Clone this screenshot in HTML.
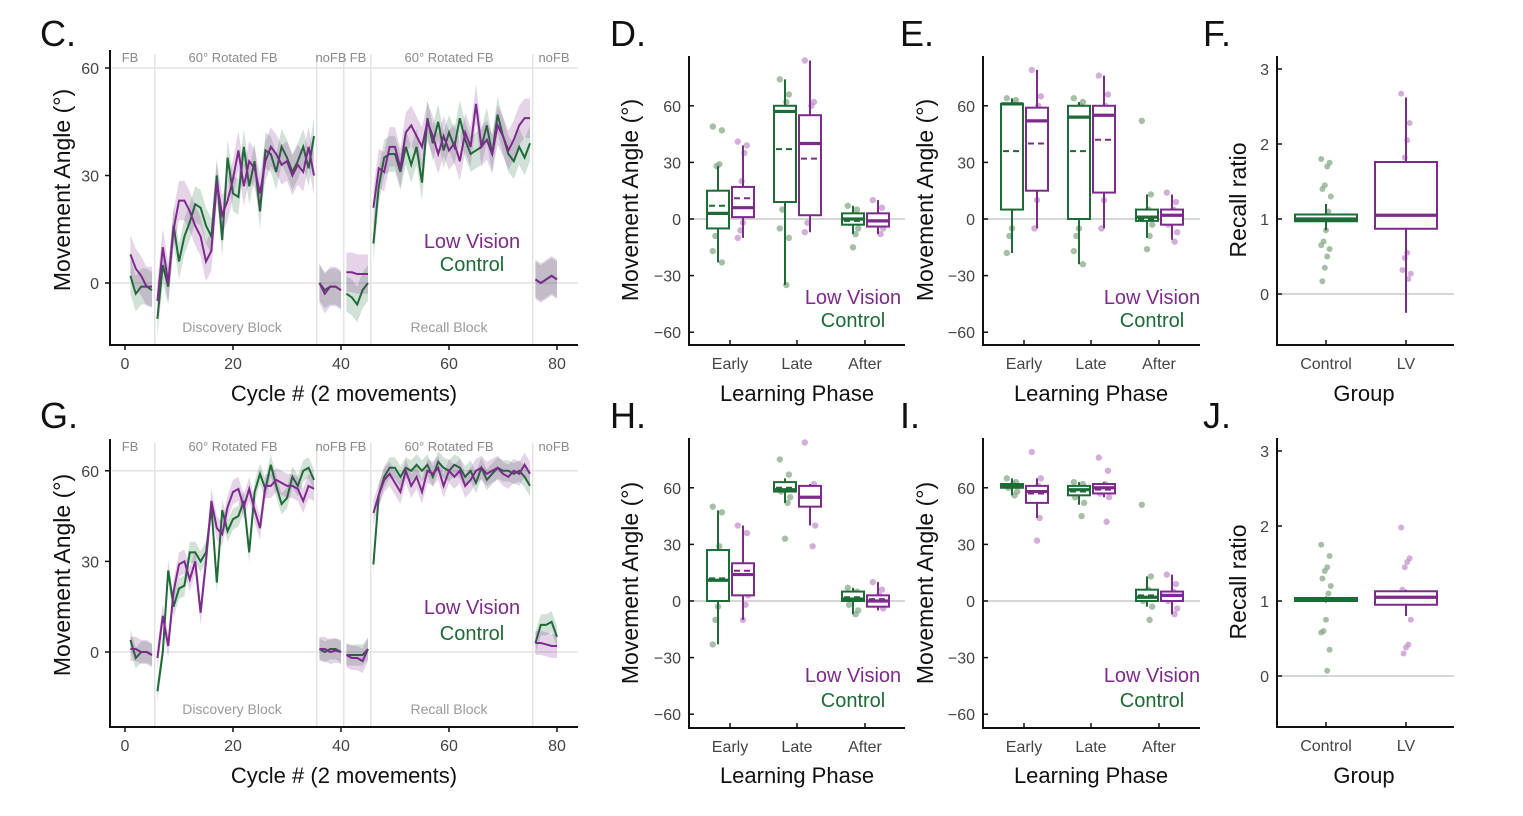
<!DOCTYPE html>
<html><head><meta charset="utf-8"><style>
html,body{margin:0;padding:0;background:#fff;}
svg{display:block;font-family:"Liberation Sans",sans-serif;}
</style></head><body>
<svg id="fig" width="1523" height="816" viewBox="0 0 1523 816" xmlns="http://www.w3.org/2000/svg"></svg>
<script>
// ---------- DATA ----------
const segStarts = [1,6,36,41,46,76];
const segLens = [5,30,5,5,30,5];
const cLV = [8,4,2,-1,-1,
 -5,10,0,15,23,23,20,16,13,6,9,28,19,23,29,37,27,34,32,25,34,38,36,33,34,30,33,31,38,30,
 0,-3,-1,-1,-2, 3,3,2.5,2.5,2.5,
 21,32,31,38,38,32,42,44,41,38,45,41,36,41,37,39,34,42,38,50,38,40,36,44,41,37,40,44,46,46,
 1,0,1,2,1];
const cCtrl = [2,-3,-1,-1,-2,
 -10,5,-1,16,6,13,17,22,21,16,13,30,12,35,25,24,38,27,34,20,37,36,31,38,35,31,34,38,32,41,
 0,-2,-1,-1,-2, -3,-4,-6,-2,0,
 11,27,35,36,36,31,38,33,38,28,46,39,45,37,42,38,46,40,36,37,38,44,36,47,41,36,34,38,35,39,
 1,0,1,2,1];
const gLV = [1,1,0,0,-1,
 -2,12,2,20,29,30,24,30,13,30,50,41,39,48,53,54,48,54,47,41,55,55,57,56,55,55,54,50,55,54,
 1,1,0,0.5,0, -1,-2,-2,-3,1,
 46,52,57,59,56,53,60,55,58,53,60,59,61,55,60,58,60,55,57,60,61,59,60,61,59,58,60,59,62,59,
 3,3,2.5,2,2];
const gCtrl = [4,-2,0,0,-1,
 -13,0,27,15,21,22,33,33,30,33,48,23,47,40,44,45,50,33,53,59,54,62,55,49,51,58,55,60,61,57,
 1,0,1,1,0, -1,-1,-1,-1,1,
 29,52,58,61,61,58,61,60,62,60,62,58,63,61,60,62,61,58,60,56,61,57,59,61,60,60,59,60,58,55,
 3,9,9,10,5];
const cSE = [5.5,5];
const gSE = [4,3.5];
const xTicks = [0,20,40,60,80];
const angTicks = [60,30,0];
const phaseCats = ["Early","Late","After"];
const boxTicks = [60,30,0,-30,-60];
// stats: [q1, median, q3, mean, whiskerLo, whiskerHi]
const dCtrl = [[-5,3,15,7,-23,28],[9,57,60,37,-35,74],[-3,0,3,-1,-8,7]];
const dLV = [[1,6,17,11,-10,39],[2,40,55,32,-7,84],[-4,-1,3,-1,-8,10]];
const eCtrl = [[5,61,61,36,-18,64],[0,54,60,36,-24,62],[-1,1,5,0,-10,13]];
const eLV = [[15,52,59,40,-5,79],[14,55,60,42,-5,76],[-3,2,5,2,-11,13]];
const hCtrl = [[0,11,27,12,-23,48],[58,59,63,60,52,65],[0,1,5,2,-7,7]];
const hLV = [[3,14,20,16,-10,40],[50,55,61,55,40,62],[-3,0,3,1,-5,10]];
const iCtrl = [[60,61,62,61,56,65],[56,59,61,58,51,63],[0,2,6,3,-3,13]];
const iLV = [[52,58,61,57,44,65],[57,60,62,59,55,63],[0,3,5,3,-7,14]];
const dCtrlPts = [[49,47,29,28,14,7,3,-3,-9,-17,-23],[74,66,62,58,55,33,15,12,5,-5,-10,-35],[7,5,2,0,-2,-5,-8,-15]];
const dLVPts = [[41,39,35,20,12,8,3,-2,-6,-10],[84,62,60,53,40,27,24,5,-2,-7],[10,6,2,0,-2,-5,-8]];
const eCtrlPts = [[64,63,61,60,58,32,6,-5,-9,-18],[64,62,60,57,44,29,5,-5,-9,-17,-24],[52,13,5,2,0,-3,-9,-16]];
const eLVPts = [[79,65,60,53,44,34,17,10,-5],[76,66,60,57,50,42,18,10,-5],[14,9,5,2,-3,-7,-12]];
const hCtrlPts = [[50,47,29,15,11,5,3,-3,-10,-23],[75,67,62,60,58,55,52,33],[7,5,3,1,-2,-5,-7]];
const hLVPts = [[40,36,18,14,7,3,-2,-10],[84,62,60,56,52,40,29],[10,6,3,0,-2,-4]];
const iCtrlPts = [[65,63,62,61,60,58,56],[63,62,60,58,55,52,45],[51,13,6,3,0,-3,-10]];
const iLVPts = [[79,65,61,59,56,53,44,32],[76,69,62,60,57,55,42],[14,9,5,3,0,-4,-7]];
const groupCats = ["Control","LV"];
const ratioTicks = [3,2,1,0];
const fStats = [[0.97,1.0,1.06,1.02,0.85,1.2],[0.87,1.05,1.76,1.2,-0.25,2.62]];
const jStats = [[1.0,1.02,1.04,1.02,0.98,1.06],[0.95,1.05,1.13,1.05,0.8,1.15]];
const fPts = [[1.8,1.75,1.7,1.45,1.4,1.3,1.1,0.85,0.7,0.65,0.6,0.5,0.35,0.17],[2.67,2.28,2.05,1.82,1.57,1.5,1.35,1.22,1.15,0.97,0.95,0.55,0.48,0.32,0.27,0.2]];
const jPts = [[1.75,1.6,1.45,1.4,1.3,1.2,1.1,0.75,0.6,0.58,0.35,0.07],[1.98,1.57,1.52,1.45,1.15,0.75,0.42,0.38,0.3]];

// ---------- DRAW ----------
const NS = "http://www.w3.org/2000/svg";
const svg = document.getElementById("fig");
const GREEN = "#1d6b36", PURPLE = "#7d2a8c", GREENPT = "#8aa98a", PURPLEPT = "#c493cb";
function el(tag, attrs, parent) {
  const e = document.createElementNS(NS, tag);
  for (const k in attrs) e.setAttribute(k, attrs[k]);
  (parent || svg).appendChild(e);
  return e;
}
function txt(s, x, y, size, fill, anchor, parent) {
  const t = el("text", {x: x, y: y, "font-size": size, fill: fill, "text-anchor": anchor || "middle"}, parent);
  t.textContent = s;
  return t;
}
function panelLetter(s, x, y) {
  const t = txt(s, x, y, 36, "#111", "start");
  
  
}
function yTitle(s, x, y, name) {
  const t = txt(s, 0, 0, 23, "#111");
  t.setAttribute("transform", "translate(" + x + "," + y + ") rotate(-90)");
  
  
}
function xTitle(s, x, y, name) {
  const t = txt(s, x, y, 22, "#111");
  
  
}
function legend(x, y1, y2, name) {
  const g = el("g", {});
  
  
  const a = txt("Low Vision", x, y1, 20, PURPLE, "middle", g);
  
  
  const b = txt("Control", x, y2, 20, GREEN, "middle", g);
  
  
}

function timePanel(p) {
  const g = el("g", {});
  
  
  const X = c => 125 + 5.4 * c;
  const Y = v => p.y0 - v * p.k;
  [60, 0].forEach(v => el("line", {x1: 112, x2: 578, y1: Y(v), y2: Y(v), stroke: "#e2e2e2", "stroke-width": 1.5}, g));
  [5.5, 35.5, 40.5, 45.5, 75.5].forEach(c => el("line", {x1: X(c), x2: X(c), y1: p.top - 8, y2: p.bottom, stroke: "#e2e2e2", "stroke-width": 1.5}, g));
  const hy = p.top;
  [["FB",130],["60° Rotated FB",233],["noFB",331],["FB",358],["60° Rotated FB",449],["noFB",554]].forEach(h => {
    const t = txt(h[0], h[1], hy, 13, "#8a8a8a", "middle", g);
    
    
  });
  const t1 = txt("Discovery Block", 232, p.bottom - 13, 14, "#9a9a9a", "middle", g);
  
  
  const t2 = txt("Recall Block", 449, p.bottom - 13, 14, "#9a9a9a", "middle", g);
  
  
  [[p.ctrl, p.se[1], GREEN, "control"], [p.lv, p.se[0], PURPLE, "low-vision"]].forEach(s => {
    let idx = 0;
    segStarts.forEach((st, si) => {
      const n = segLens[si];
      const vals = s[0].slice(idx, idx + n);
      idx += n;
      const up = vals.map((v, i) => X(st + i) + "," + Y(v + s[1]));
      const dn = vals.map((v, i) => X(st + i) + "," + Y(v - s[1])).reverse();
      const band = el("polygon", {points: up.concat(dn).join(" "), fill: s[2], "fill-opacity": 0.2}, g);
      
      
      const line = el("polyline", {points: vals.map((v, i) => X(st + i) + "," + Y(v)).join(" "), fill: "none", stroke: s[2], "stroke-width": 2}, g);
      
      
    });
  });
  el("line", {x1: 110, x2: 110, y1: p.top - 12, y2: p.bottom + 1, stroke: "#111", "stroke-width": 2}, g);
  el("line", {x1: 109, x2: 578, y1: p.bottom, y2: p.bottom, stroke: "#111", "stroke-width": 2}, g);
  xTicks.forEach(v => {
    el("line", {x1: X(v), x2: X(v), y1: p.bottom, y2: p.bottom + 5, stroke: "#111", "stroke-width": 1.5}, g);
    const t = txt(v, X(v), p.bottom + 24, 16, "#444", "middle", g);
    
    
  });
  angTicks.forEach(v => {
    el("line", {x1: 105, x2: 110, y1: Y(v), y2: Y(v), stroke: "#111", "stroke-width": 1.5}, g);
    const t = txt(v, 99, Y(v) + 6, 16, "#444", "end", g);
    
    
  });
}

function boxPanel(p) {
  const g = el("g", {});
  
  
  const Y = v => p.y0 - v * p.k;
  el("line", {x1: p.ax, x2: p.right, y1: Y(p.zero), y2: Y(p.zero), stroke: "#c8c8c8", "stroke-width": 1.5}, g);
  p.groups.forEach(gr => {
    gr.stats.forEach((s, i) => {
      const cx = p.centers[i] + gr.off;
      const w = p.bw;
      gr.pts[i].forEach((v, j) => {
        const dot = el("circle", {cx: cx + (((j * 7) % 9) - 4) * p.jit, cy: Y(v), r: p.r, fill: gr.pc, "fill-opacity": 0.75}, g);
        
        
      });
      const wh = el("line", {x1: cx, x2: cx, y1: Y(s[4]), y2: Y(s[5]), stroke: gr.c, "stroke-width": 2}, g);
      
      
      const box = el("rect", {x: cx - w / 2, y: Y(s[2]), width: w, height: Math.max(Y(s[0]) - Y(s[2]), 1), fill: "#fff", stroke: gr.c, "stroke-width": 2}, g);
      
      
      const md = el("line", {x1: cx - w / 2, x2: cx + w / 2, y1: Y(s[1]), y2: Y(s[1]), stroke: gr.c, "stroke-width": 3.2}, g);
      
      
      if (p.mean) {
        const mn = el("line", {x1: cx - w / 2 + 2, x2: cx + w / 2 - 2, y1: Y(s[3]), y2: Y(s[3]), stroke: gr.c, "stroke-width": 2, "stroke-dasharray": "6,4"}, g);
        
        
      }
    });
  });
  el("line", {x1: p.ax, x2: p.ax, y1: p.top, y2: p.bottom + 1, stroke: "#111", "stroke-width": 2}, g);
  el("line", {x1: p.ax - 1, x2: p.right, y1: p.bottom, y2: p.bottom, stroke: "#111", "stroke-width": 2}, g);
  p.cats.forEach((c, i) => {
    el("line", {x1: p.centers[i], x2: p.centers[i], y1: p.bottom, y2: p.bottom - 5, stroke: "#111", "stroke-width": 1.5}, g);
    const t = txt(c, p.centers[i], p.bottom + 24, 16, "#444", "middle", g);
    
    
  });
  p.ticks.forEach(v => {
    el("line", {x1: p.ax, x2: p.ax + 5, y1: Y(v), y2: Y(v), stroke: "#111", "stroke-width": 1.5}, g);
    const t = txt(v < 0 ? "−" + (-v) : v, p.ax - 8, Y(v) + 6, 16, "#444", "end", g);
    
    
  });
}

panelLetter("C.", 40, 46); panelLetter("G.", 40, 428);
timePanel({name: "panel-c-chart", y0: 283, k: 3.583, top: 62, bottom: 345, lv: cLV, ctrl: cCtrl, se: cSE});
timePanel({name: "panel-g-chart", y0: 652, k: 3.02, top: 451, bottom: 727, lv: gLV, ctrl: gCtrl, se: gSE});
yTitle("Movement Angle (°)", 70, 190, "y-axis-title-c");
yTitle("Movement Angle (°)", 70, 575, "y-axis-title-g");
xTitle("Cycle # (2 movements)", 344, 401, "x-axis-title-c");
xTitle("Cycle # (2 movements)", 344, 783, "x-axis-title-g");
legend(472, 248, 271, "legend-c");
legend(472, 614, 640, "legend-g");

const phaseCenters = [[730,797,865],[1024,1091,1159]];
function mk(name, ax, right, centers, y0, top, bottom, ctrl, lv, cp, lp) {
  boxPanel({name: name, ax: ax, right: right, centers: centers, y0: y0, k: 1.887, top: top, bottom: bottom,
    zero: 0, bw: 22, r: 3.2, jit: 1.3, mean: true, cats: phaseCats, ticks: boxTicks,
    groups: [{key: "control", stats: ctrl, pts: cp, off: -12, c: GREEN, pc: GREENPT},
             {key: "low-vision", stats: lv, pts: lp, off: 13, c: PURPLE, pc: PURPLEPT}]});
}
panelLetter("D.", 610, 46); panelLetter("E.", 900, 46);
panelLetter("H.", 610, 428); panelLetter("I.", 900, 428);
mk("panel-d-chart", 689, 905, phaseCenters[0], 219, 56, 345, dCtrl, dLV, dCtrlPts, dLVPts);
mk("panel-e-chart", 983, 1200, phaseCenters[1], 219, 56, 345, eCtrl, eLV, eCtrlPts, eLVPts);
mk("panel-h-chart", 689, 905, phaseCenters[0], 601, 438, 728, hCtrl, hLV, hCtrlPts, hLVPts);
mk("panel-i-chart", 983, 1200, phaseCenters[1], 601, 438, 728, iCtrl, iLV, iCtrlPts, iLVPts);
yTitle("Movement Angle (°)", 638, 200, "y-axis-title-d");
yTitle("Movement Angle (°)", 933, 200, "y-axis-title-e");
yTitle("Movement Angle (°)", 638, 583, "y-axis-title-h");
yTitle("Movement Angle (°)", 933, 583, "y-axis-title-i");
xTitle("Learning Phase", 797, 401, "x-axis-title-d");
xTitle("Learning Phase", 1091, 401, "x-axis-title-e");
xTitle("Learning Phase", 797, 783, "x-axis-title-h");
xTitle("Learning Phase", 1091, 783, "x-axis-title-i");
legend(853, 304, 327, "legend-d");
legend(1152, 304, 327, "legend-e");
legend(853, 682, 707, "legend-h");
legend(1152, 682, 707, "legend-i");

panelLetter("F.", 1203, 46); panelLetter("J.", 1203, 428);
boxPanel({name: "panel-f-chart", ax: 1277, right: 1454, centers: [1326, 1406], y0: 294, k: 75, top: 56, bottom: 345,
  zero: 0, bw: 62, r: 3, jit: 1.2, mean: false, cats: groupCats, ticks: ratioTicks,
  groups: [{key: "control", stats: [fStats[0]], pts: [fPts[0]], off: 0, c: GREEN, pc: GREENPT},
           {key: "low-vision", stats: [fStats[1]], pts: [fPts[1]], off: 80, c: PURPLE, pc: PURPLEPT}]});
boxPanel({name: "panel-j-chart", ax: 1277, right: 1454, centers: [1326, 1406], y0: 676, k: 75, top: 438, bottom: 727,
  zero: 0, bw: 62, r: 3, jit: 1.2, mean: false, cats: groupCats, ticks: ratioTicks,
  groups: [{key: "control", stats: [jStats[0]], pts: [jPts[0]], off: 0, c: GREEN, pc: GREENPT},
           {key: "low-vision", stats: [jStats[1]], pts: [jPts[1]], off: 80, c: PURPLE, pc: PURPLEPT}]});
yTitle("Recall ratio", 1246, 200, "y-axis-title-f");
yTitle("Recall ratio", 1246, 582, "y-axis-title-j");
xTitle("Group", 1364, 401, "x-axis-title-f");
xTitle("Group", 1364, 783, "x-axis-title-j");
</script>
</body></html>
